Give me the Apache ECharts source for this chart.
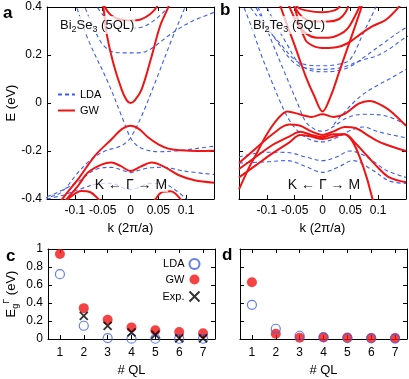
<!DOCTYPE html>
<html>
<head>
<meta charset="utf-8">
<script src="https://cdn.jsdelivr.net/npm/echarts@6/dist/echarts.min.js"></script>
<style>
html, body { margin: 0; padding: 0; background: #fff; }
#chart { width: 409px; height: 379px; }
</style>
</head>
<body>
<div id="chart"></div>
<script>
// band structures, points are [k (2pi/a), E (eV)]
// panel a: Bi2Se3 (5QL)
const seGw1 = [[-0.056, 0.45], [-0.049, 0.40], [-0.043, 0.29], [-0.031, 0.167], [-0.016, 0.057], [-0.007, 0.012], [0, 0.0], [0.008, 0.012], [0.02, 0.057], [0.038, 0.195], [0.053, 0.32], [0.068, 0.40], [0.075, 0.45]];
const seGw2 = [[-0.052, 0.45], [-0.046, 0.40], [-0.035, 0.366], [-0.018, 0.348], [0, 0.344], [0.018, 0.348], [0.035, 0.37], [0.047, 0.40], [0.053, 0.45]];
const seGw3 = [[-0.135, -0.44], [-0.118, -0.386], [-0.094, -0.317], [-0.064, -0.22], [-0.034, -0.151], [-0.015, -0.108], [0, -0.095], [0.015, -0.108], [0.032, -0.144], [0.05, -0.172], [0.068, -0.19], [0.09, -0.197], [0.12, -0.2], [0.15, -0.199]];
const seGw4 = [[-0.13, -0.44], [-0.112, -0.393], [-0.094, -0.344], [-0.076, -0.289], [-0.052, -0.257], [-0.035, -0.248], [-0.018, -0.262], [0, -0.283], [0.018, -0.265], [0.038, -0.248], [0.06, -0.265], [0.086, -0.3], [0.115, -0.322], [0.15, -0.332]];
const seGw5 = [[-0.128, -0.44], [-0.108, -0.392], [-0.088, -0.367], [-0.072, -0.372], [-0.058, -0.4], [-0.04, -0.445], [0, -0.48], [0.032, -0.445], [0.045, -0.4], [0.058, -0.37], [0.072, -0.368], [0.088, -0.395], [0.1, -0.44]];

const seLda1 = [[-0.105, 0.45], [-0.097, 0.40], [-0.076, 0.264], [-0.04, 0.084], [-0.016, -0.054], [0, -0.145], [0.012, -0.178], [0.026, -0.194], [0.05, -0.203], [0.08, -0.2], [0.11, -0.192], [0.15, -0.18]];
const seLda2 = [[0.105, 0.45], [0.098, 0.40], [0.074, 0.264], [0.044, 0.084], [0.02, -0.054], [0, -0.145], [-0.012, -0.172], [-0.024, -0.185], [-0.046, -0.2], [-0.07, -0.234], [-0.094, -0.289], [-0.124, -0.372], [-0.148, -0.393], [-0.16, -0.4]];
const seLda3 = [[-0.09, 0.45], [-0.082, 0.40], [-0.07, 0.333], [-0.052, 0.25], [-0.035, 0.216], [-0.015, 0.209], [0.01, 0.209], [0.028, 0.215], [0.044, 0.237], [0.074, 0.29], [0.11, 0.34], [0.15, 0.377]];
const seLda4 = [[-0.07, 0.45], [-0.06, 0.40], [-0.04, 0.345], [-0.02, 0.318], [0, 0.312], [0.02, 0.316], [0.04, 0.34], [0.06, 0.38], [0.068, 0.40], [0.075, 0.45]];
const seLda5 = [[-0.15, -0.39], [-0.136, -0.378], [-0.094, -0.328], [-0.064, -0.278], [-0.034, -0.268], [-0.015, -0.28], [0, -0.29], [0.015, -0.28], [0.035, -0.27], [0.056, -0.268], [0.1, -0.285], [0.15, -0.298]];
const seLda6 = [[-0.15, -0.4], [-0.12, -0.383], [-0.09, -0.358], [-0.06, -0.338], [-0.035, -0.335], [-0.015, -0.352], [0, -0.36], [0.015, -0.352], [0.035, -0.335], [0.06, -0.338], [0.085, -0.37], [0.105, -0.41]];

// panel b: Bi2Te3 (5QL)
const teGw1 = [[-0.08, 0.45], [-0.075, 0.40], [-0.05, 0.24], [-0.03, 0.11], [-0.015, 0.03], [0, -0.035], [0.015, 0.03], [0.03, 0.13], [0.045, 0.23], [0.06, 0.33], [0.07, 0.40], [0.075, 0.45]];
const teGw2 = [[-0.05, 0.45], [-0.045, 0.40], [-0.03, 0.386], [0, 0.378], [0.02, 0.385], [0.03, 0.40], [0.035, 0.45]];
const teGw3 = [[-0.06, 0.45], [-0.05, 0.40], [-0.035, 0.356], [-0.015, 0.34], [0.01, 0.34], [0.03, 0.35], [0.042, 0.38], [0.048, 0.42]];
const teGw4 = [[-0.068, 0.45], [-0.045, 0.33], [-0.03, 0.29], [-0.01, 0.272], [0.01, 0.272], [0.03, 0.285], [0.045, 0.31], [0.06, 0.37], [0.07, 0.42]];
const teGw5 = [[-0.05, 0.40], [-0.031, 0.264], [-0.015, 0.236], [0.005, 0.229], [0.025, 0.232], [0.046, 0.25], [0.067, 0.285], [0.09, 0.32], [0.114, 0.347], [0.137, 0.40], [0.145, 0.43]];
const teGw6 = [[-0.15, -0.36], [-0.13, -0.26], [-0.116, -0.2], [-0.1, -0.13], [-0.08, -0.065], [-0.063, -0.035], [-0.04, -0.048], [-0.02, -0.058], [0, -0.047], [0.02, -0.058], [0.04, -0.045], [0.065, -0.003], [0.084, 0.008], [0.114, -0.02], [0.13, -0.05], [0.15, -0.095]];
const teGw7 = [[-0.15, -0.25], [-0.12, -0.19], [-0.09, -0.13], [-0.06, -0.09], [-0.04, -0.095], [-0.02, -0.118], [0, -0.133], [0.02, -0.118], [0.04, -0.1], [0.06, -0.105], [0.085, -0.14], [0.11, -0.17], [0.15, -0.2]];
const teGw8 = [[-0.15, -0.275], [-0.12, -0.225], [-0.09, -0.175], [-0.06, -0.14], [-0.04, -0.12], [-0.02, -0.133], [0, -0.143], [0.02, -0.13], [0.04, -0.13], [0.06, -0.17], [0.08, -0.22], [0.1, -0.27], [0.12, -0.31], [0.15, -0.33]];
const teGw9 = [[-0.15, -0.31], [-0.12, -0.26], [-0.09, -0.21], [-0.06, -0.165], [-0.04, -0.133], [-0.02, -0.14], [0, -0.15], [0.02, -0.14], [0.04, -0.13], [0.055, -0.165], [0.067, -0.227], [0.08, -0.315], [0.09, -0.4], [0.1, -0.46]];

const teLda1 = [[-0.13, 0.45], [-0.116, 0.40], [-0.09, 0.25], [-0.065, 0.11], [-0.045, 0.0], [-0.031, -0.075], [-0.015, -0.108], [0, -0.118], [0.02, -0.098], [0.043, -0.063], [0.073, -0.047], [0.114, -0.054], [0.15, -0.09]];
const teLda2 = [[-0.15, 0.45], [-0.128, 0.32], [-0.11, 0.2], [-0.093, 0.1], [-0.075, 0.0], [-0.06, -0.07], [-0.045, -0.115], [-0.025, -0.15], [0, -0.162], [0.025, -0.145], [0.05, -0.115], [0.073, -0.1], [0.1, -0.12], [0.15, -0.145]];
const teLda3 = [[-0.15, -0.225], [-0.1, -0.205], [-0.063, -0.206], [-0.03, -0.225], [0, -0.24], [0.025, -0.225], [0.049, -0.2], [0.08, -0.225], [0.114, -0.28], [0.15, -0.31]];
const teLda4 = [[-0.15, -0.25], [-0.1, -0.245], [-0.063, -0.24], [-0.03, -0.265], [0, -0.289], [0.03, -0.265], [0.055, -0.24], [0.09, -0.28], [0.12, -0.325], [0.15, -0.335]];
const teLda5 = [[0.02, -0.09], [0.035, -0.05], [0.055, 0.0], [0.075, 0.04], [0.096, 0.07], [0.12, 0.1], [0.15, 0.14]];
const teLda6 = [[-0.15, 0.47], [-0.13, 0.40], [-0.1, 0.31], [-0.075, 0.245], [-0.05, 0.18], [-0.03, 0.16], [0, 0.155], [0.025, 0.16], [0.049, 0.18], [0.073, 0.29], [0.096, 0.40], [0.105, 0.45]];
const teLda7 = [[-0.13, 0.45], [-0.12, 0.40], [-0.1, 0.32], [-0.075, 0.235], [-0.05, 0.165], [-0.03, 0.146], [0, 0.14], [0.03, 0.146], [0.045, 0.155], [0.07, 0.178], [0.096, 0.195], [0.12, 0.225], [0.143, 0.264], [0.155, 0.28]];
const teLda8 = [[-0.11, 0.45], [-0.1, 0.40], [-0.085, 0.33], [-0.065, 0.25], [-0.045, 0.172], [-0.025, 0.138], [0, 0.13], [0.025, 0.134], [0.05, 0.152], [0.08, 0.2], [0.11, 0.25], [0.14, 0.30], [0.155, 0.32]];

// gap at Gamma vs number of quintuple layers
const qlLabels = ['1', '2', '3', '4', '5', '6', '7'];
const seGapLda = [0.72, 0.147, 0.01, 0.004, 0.003, 0.003, 0.003];
const seGapGw = [0.945, 0.343, 0.214, 0.129, 0.096, 0.077, 0.063];
const seGapExp = [null, 0.258, 0.147, 0.074, 0.048, 0.008, 0.006];
const teGapLda = [0.38, 0.114, 0.036, 0.02, 0.01, 0.008, 0.005];
const teGapGw = [0.631, 0.059, 0.015, 0.018, 0.016, 0.012, 0.01];

const FONT = 'Liberation Sans, Arial, Helvetica, sans-serif';
const RED = '#f01414';
const BLUE = '#3c5cf0';

const chart = echarts.init(document.getElementById('chart'));

function kAxis(grid, top) {
    return {
        type: 'value', gridIndex: grid, position: top ? 'top' : 'bottom',
        min: -0.15, max: 0.15, interval: 0.05,
        name: top ? '' : 'k (2π/a)', nameLocation: 'middle', nameGap: 20,
        nameTextStyle: {fontSize: 13, color: '#000', fontFamily: FONT},
        axisLine: {show: true, onZero: false, lineStyle: {color: '#000', width: 1}},
        axisTick: {show: true, inside: true, length: 4, lineStyle: {color: '#000'}},
        axisLabel: {
            show: !top, margin: 6, fontSize: 12, color: '#000', fontFamily: FONT,
            formatter: v => Math.abs(v) > 0.14 ? '' : String(+v.toFixed(2))
        },
        splitLine: {show: false}
    };
}

function eAxis(grid, right, withLabel) {
    return {
        type: 'value', gridIndex: grid, position: right ? 'right' : 'left',
        min: -0.4, max: 0.4, interval: 0.2,
        name: withLabel ? 'E (eV)' : '', nameLocation: 'middle', nameGap: 28,
        nameTextStyle: {fontSize: 13, color: '#000', fontFamily: FONT},
        axisLine: {show: true, onZero: false, lineStyle: {color: '#000', width: 1}},
        axisTick: {show: true, inside: true, length: 4, lineStyle: {color: '#000'}},
        axisLabel: {show: withLabel, margin: 5, fontSize: 12, color: '#000', fontFamily: FONT,
            formatter: v => String(+v.toFixed(1))},
        splitLine: {show: false}
    };
}

function qlAxis(grid, top) {
    return {
        type: 'category', gridIndex: grid, position: top ? 'top' : 'bottom',
        data: qlLabels, boundaryGap: true,
        name: top ? '' : '# QL', nameLocation: 'middle', nameGap: 25,
        nameTextStyle: {fontSize: 13, color: '#000', fontFamily: FONT},
        axisLine: {show: true, onZero: false, lineStyle: {color: '#000', width: 1}},
        axisTick: {show: true, inside: true, length: 4, alignWithLabel: true, lineStyle: {color: '#000'}},
        axisLabel: {show: !top, margin: 8, fontSize: 12, color: '#000', fontFamily: FONT},
        splitLine: {show: false}
    };
}

function gapAxis(grid, right, withLabel) {
    return {
        type: 'value', gridIndex: grid, position: right ? 'right' : 'left',
        min: 0, max: 1, interval: 0.2,
        name: withLabel ? '{n|E}{s|g}{p|Γ}{n| (eV)}' : '', nameLocation: 'middle', nameGap: 28,
        nameTextStyle: {
            fontSize: 13, color: '#000', fontFamily: FONT,
            rich: {
                n: {fontSize: 13, lineHeight: 18, color: '#000', fontFamily: FONT},
                s: {fontSize: 9, lineHeight: 9, verticalAlign: 'bottom', color: '#000', fontFamily: FONT},
                p: {fontSize: 9, lineHeight: 9, verticalAlign: 'top', color: '#000', fontFamily: FONT}
            }
        },
        axisLine: {show: true, onZero: false, lineStyle: {color: '#000', width: 1}},
        axisTick: {show: true, inside: true, length: 4, lineStyle: {color: '#000'}},
        axisLabel: {show: withLabel, margin: 5, fontSize: 12, color: '#000', fontFamily: FONT,
            formatter: v => String(+v.toFixed(1))},
        splitLine: {show: false}
    };
}

function bands(curves, name, color, dashed, idx) {
    return curves.map(pts => ({
        type: 'line', name: name, xAxisIndex: idx, yAxisIndex: idx,
        data: pts, smooth: 0.35, symbol: 'none', clip: true, silent: true,
        lineStyle: {color: color, width: dashed ? 1.1 : 2, type: dashed ? [4, 3] : 'solid'},
        itemStyle: {color: color}
    }));
}

function gapSeries(name, values, idx, kind) {
    const s = {type: 'scatter', name: name, xAxisIndex: idx, yAxisIndex: idx, data: values, silent: true, clip: false};
    if (kind === 'gw') {
        s.symbol = 'circle'; s.symbolSize = 10; s.itemStyle = {color: RED};
    } else if (kind === 'lda') {
        s.symbol = 'circle'; s.symbolSize = 9;
        s.itemStyle = {color: 'rgba(255,255,255,0)', borderColor: BLUE, borderWidth: 1.2};
    } else {
        s.symbol = 'path://M0,0L10,10M10,0L0,10'; s.symbolSize = 8;
        s.itemStyle = {color: 'none', borderColor: '#000', borderWidth: 1.8};
    }
    return s;
}

const titleRich = {
    n: {fontSize: 13, lineHeight: 18, fill: '#111', fontFamily: FONT},
    s: {fontSize: 9, lineHeight: 9, verticalAlign: 'bottom', fill: '#111', fontFamily: FONT}
};

function letter(t, x, y) {
    return {type: 'text', z: 100, x: x, y: y,
        style: {text: t, font: 'bold 17px ' + FONT, fill: '#000', verticalAlign: 'middle'}};
}

const option = {
    animation: false,
    textStyle: {fontFamily: FONT},
    grid: [
        {left: 47, top: 7, width: 167, height: 192},
        {left: 239, top: 7, width: 169, height: 192},
        {left: 48, top: 249, width: 167, height: 90},
        {left: 240, top: 249, width: 167, height: 90}
    ],
    xAxis: [kAxis(0, false), kAxis(1, false), qlAxis(2, false), qlAxis(3, false),
        kAxis(0, true), kAxis(1, true), qlAxis(2, true), qlAxis(3, true)],
    yAxis: [eAxis(0, false, true), eAxis(1, false, false), gapAxis(2, false, true), gapAxis(3, false, false),
        eAxis(0, true, false), eAxis(1, true, false), gapAxis(2, true, false), gapAxis(3, true, false)],
    legend: [
        {
            orient: 'vertical', left: 57, top: 89, padding: 0, itemGap: 5,
            itemWidth: 17, itemHeight: 12, selectedMode: false,
            itemStyle: {opacity: 0},
            textStyle: {fontSize: 11, color: '#000', fontFamily: FONT},
            data: ['LDA', 'GW']
        },
        {
            orient: 'vertical', align: 'right', right: 207, top: 258, padding: 0, itemGap: 4,
            itemWidth: 10, itemHeight: 10, selectedMode: false,
            textStyle: {fontSize: 11, color: '#000', fontFamily: FONT},
            formatter: n => n.slice(1),
            data: ['cLDA', 'cGW', 'cExp.']
        }
    ],
    series: [].concat(
        bands([seLda1, seLda2, seLda3, seLda4, seLda5, seLda6], 'LDA', BLUE, true, 0),
        bands([seGw1, seGw2, seGw3, seGw4, seGw5], 'GW', RED, false, 0),
        bands([teLda1, teLda2, teLda3, teLda4, teLda5, teLda6, teLda7, teLda8], 'LDA', BLUE, true, 1),
        bands([teGw1, teGw2, teGw3, teGw4, teGw5, teGw6, teGw7, teGw8, teGw9], 'GW', RED, false, 1),
        [
            gapSeries('cGW', seGapGw, 2, 'gw'),
            gapSeries('cLDA', seGapLda, 2, 'lda'),
            gapSeries('cExp.', seGapExp, 2, 'exp'),
            gapSeries('dGW', teGapGw, 3, 'gw'),
            gapSeries('dLDA', teGapLda, 3, 'lda')
        ]
    ),
    graphic: [
        letter('a', 3, 13),
        letter('b', 220, 10),
        letter('c', 6, 256),
        letter('d', 222, 255),
        {type: 'text', z: 100, x: 59, y: 25, style: {
            text: '{n|Bi}{s|2}{n|Se}{s|3}{n| (5QL)}', rich: titleRich, verticalAlign: 'middle',
            backgroundColor: 'rgba(255,255,255,0.72)', padding: [0, 1]}},
        {type: 'text', z: 100, x: 252, y: 25, style: {
            text: '{n|Bi}{s|2}{n|Te}{s|3}{n| (5QL)}', rich: titleRich, verticalAlign: 'middle',
            backgroundColor: 'rgba(255,255,255,0.72)', padding: [0, 1]}},
        {type: 'text', z: 100, x: 131, y: 185, style: {
            text: 'K ← Γ → M', font: '14px ' + FONT, fill: '#111', align: 'center', verticalAlign: 'middle',
            backgroundColor: 'rgba(255,255,255,0.72)', padding: [0, 1]}},
        {type: 'text', z: 100, x: 324, y: 185, style: {
            text: 'K ← Γ → M', font: '14px ' + FONT, fill: '#111', align: 'center', verticalAlign: 'middle',
            backgroundColor: 'rgba(255,255,255,0.72)', padding: [0, 1]}}
    ]
};

chart.setOption(option);
</script>
</body>
</html>
